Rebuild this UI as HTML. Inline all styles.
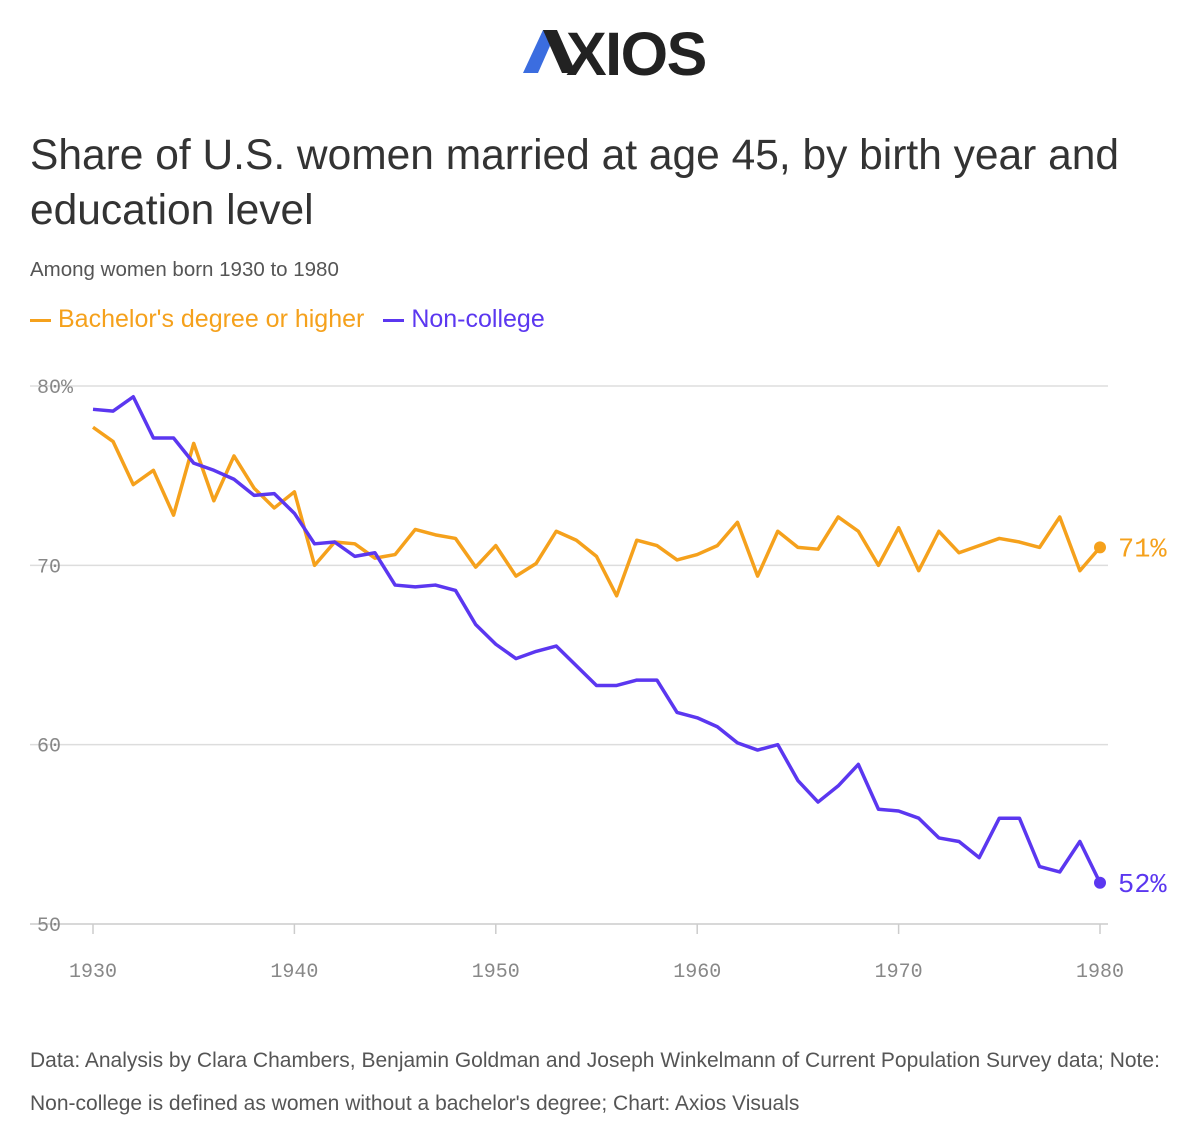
<!DOCTYPE html>
<html><head><meta charset="utf-8">
<style>
body{margin:0;background:#fff;width:1200px;height:1139px;overflow:hidden;font-family:"Liberation Sans",sans-serif;}
.abs{position:absolute;}
</style></head>
<body>
<svg class="abs" style="left:0;top:0" width="1200" height="110">
  <polygon points="523,73 538,73 557,30 543,30" fill="#3b6de0"/>
  <polygon points="543,30 557,30 576,73 562,73" fill="#222"/>
  <text x="566" y="75" font-family="Liberation Sans, sans-serif" font-weight="bold" font-size="61" fill="#222" letter-spacing="-1.5">XIOS</text>
</svg>
<div class="abs" style="left:30px;top:128px;font-size:42.5px;line-height:55px;color:#333;width:1160px;">Share of U.S. women married at age 45, by birth year and education level</div>
<div class="abs" style="left:30px;top:258px;font-size:20.5px;color:#555;">Among women born 1930 to 1980</div>
<div class="abs" style="left:30px;top:305px;font-size:25px;">
  <span style="color:#f5a11c"><span style="display:inline-block;width:21px;height:3px;background:#f5a11c;vertical-align:middle;margin-right:7px"></span>Bachelor's degree or higher</span>
  <span style="color:#5b37f0;margin-left:12px"><span style="display:inline-block;width:21px;height:3px;background:#5b37f0;vertical-align:middle;margin-right:7px"></span>Non-college</span>
</div>
<svg id="chart" class="abs" style="left:0;top:0" width="1200" height="1000"></svg>
<div class="abs" style="left:30px;top:1039px;font-size:21px;line-height:43px;color:#555;width:1160px;">Data: Analysis by Clara Chambers, Benjamin Goldman and Joseph Winkelmann of Current Population Survey data; Note: <span style="white-space:nowrap">Non-college</span> is defined as women without a bachelor's degree; Chart: Axios Visuals</div>
<script>
const years = [1930,1931,1932,1933,1934,1935,1936,1937,1938,1939,1940,1941,1942,1943,1944,1945,1946,1947,1948,1949,1950,1951,1952,1953,1954,1955,1956,1957,1958,1959,1960,1961,1962,1963,1964,1965,1966,1967,1968,1969,1970,1971,1972,1973,1974,1975,1976,1977,1978,1979,1980];
const bachelors = [77.7,76.9,74.5,75.3,72.8,76.8,73.6,76.1,74.3,73.2,74.1,70.0,71.3,71.2,70.4,70.6,72.0,71.7,71.5,69.9,71.1,69.4,70.1,71.9,71.4,70.5,68.3,71.4,71.1,70.3,70.6,71.1,72.4,69.4,71.9,71.0,70.9,72.7,71.9,70.0,72.1,69.7,71.9,70.7,71.1,71.5,71.3,71.0,72.7,69.7,71.0];
const nonCollege = [78.7,78.6,79.4,77.1,77.1,75.7,75.3,74.8,73.9,74.0,72.9,71.2,71.3,70.5,70.7,68.9,68.8,68.9,68.6,66.7,65.6,64.8,65.2,65.5,64.4,63.3,63.3,63.6,63.6,61.8,61.5,61.0,60.1,59.7,60.0,58.0,56.8,57.7,58.9,56.4,56.3,55.9,54.8,54.6,53.7,55.9,55.9,53.2,52.9,54.6,52.3];
const yTicks = [50,60,70,80];
const yTickLabels = ["50","60","70","80%"];
const xTicks = [1930,1940,1950,1960,1970,1980];
const endLabels = ["71%","52%"];

const svg = document.getElementById('chart');
const NS = 'http://www.w3.org/2000/svg';
const x = v => 93 + (v-1930)*(1100-93)/50;
const y = v => 924 - (v-50)*(924-386)/30;
function mk(tag, attrs){const e=document.createElementNS(NS,tag);for(const k in attrs)e.setAttribute(k,attrs[k]);svg.appendChild(e);return e;}
yTicks.forEach((t,i)=>{
  const l = mk('line',{x1:30,x2:1108,y1:y(t),y2:y(t),stroke:t===50?'#ccc':'#ddd','stroke-width':1.5});
  
  
  const tx = mk('text',{x:37,y:y(t)+7,'font-family':'Liberation Mono, monospace','font-size':20,fill:'#888'});
  tx.textContent = yTickLabels[i];
  
  
});
xTicks.forEach(t=>{
  const l = mk('line',{x1:x(t),x2:x(t),y1:924,y2:934,stroke:'#ccc','stroke-width':1.5});
  
  
  const tx = mk('text',{x:x(t),y:977,'text-anchor':'middle','font-family':'Liberation Mono, monospace','font-size':20,fill:'#888'});
  tx.textContent = t;
  
  
});
[[bachelors,'#f5a11c','bachelors-line',endLabels[0]],[nonCollege,'#5b37f0','non-college-line',endLabels[1]]].forEach(([d,c,n,lab])=>{
  const p = mk('polyline',{points:d.map((v,i)=>x(years[i])+','+y(v)).join(' '),fill:'none',stroke:c,'stroke-width':3.5,'stroke-linejoin':'round'});
  
  
  const last = d.length-1;
  const dot = mk('circle',{cx:x(years[last]),cy:y(d[last]),r:6,fill:c});
  
  
  const tx = mk('text',{x:1118,y:y(d[last])+9,'font-family':'Liberation Mono, monospace','font-size':27,fill:c});
  tx.textContent = lab;
  
  
});
</script>
</body></html>
